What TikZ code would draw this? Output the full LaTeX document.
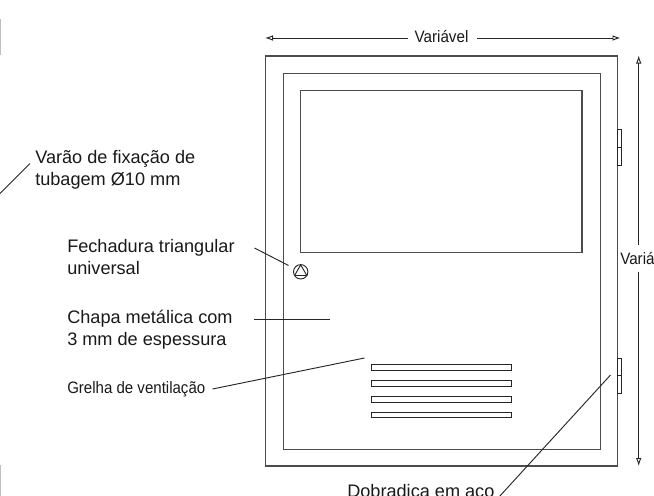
\documentclass[tikz,border=0pt]{standalone}
\usepackage{fontspec}
\setmainfont{Liberation Sans}
\usetikzlibrary{arrows.meta}
\tikzset{
	labeltext/.style={inner sep=0pt, anchor=base west, align=left, font=\fontsize{13.6pt}{16.5pt}\selectfont, text=black!90},
	narrowtext/.style={inner sep=0pt, font=\fontsize{12.4pt}{14pt}\selectfont, text=black!90},
	panelline/.style={line width=0.8pt, color=black!70},
	thinline/.style={line width=0.7pt, color=black!85},
	dimarrow/.style={line width=0.7pt, color=black!85, -{Latex[open, length=6pt, width=4.2pt]}}
}

\begin{document}
\begin{tikzpicture}[x=0.75pt, y=-0.75pt]
	%%%%% START %%%%%
	\useasboundingbox (0, 0) rectangle (654, 496);

	\draw[panelline] (265.5, 56) rectangle (617.5, 466);
	\draw[panelline] (283.3, 73.3) rectangle (600.3, 449.3);
	\draw[panelline] (300.5, 90.5) rectangle (582, 252.5);

	% hinges
	\draw[thinline] (617.5, 129.5) rectangle (621, 165);
	\draw[thinline] (617.5, 147) -- (621, 147);
	\draw[thinline] (617.5, 358) rectangle (621, 393);
	\draw[thinline] (617.5, 375.5) -- (621, 375.5);

	% vents
	\foreach \venty in {364.5, 380.5, 396.5, 412}
		\draw[thinline] (371, \venty) rectangle (511.5, \venty + 5.5);

	% lock
	\draw[thinline] (300.7, 271.8) circle (7.2);
	\draw[thinline] (300.7, 264.8) -- (306.8, 275.5) -- (294.6, 275.5) -- cycle;

	% dimensions
	\node[narrowtext] (widthlabel) at (441.5, 36.5) {\scalebox{.92}[1]{Variável}};
	\coordinate (widthleft) at (265, 38);
	\coordinate (widthright) at (620.5, 38);
	\coordinate (widthgapleft) at (408, 38);
	\coordinate (widthgapright) at (477, 38);
	\draw[dimarrow] (widthgapleft) -- (widthleft);
	\draw[dimarrow] (widthgapright) -- (widthright);

	\node[narrowtext, anchor=west] (heightlabel) at (620, 258) {\scalebox{.92}[1]{Variável}};
	\coordinate (heighttop) at (638.7, 55.5);
	\coordinate (heightbottom) at (638.7, 466);
	\coordinate (heightgaptop) at (638.7, 245);
	\coordinate (heightgapbottom) at (638.7, 271.5);
	\draw[dimarrow] (heightgaptop) -- (heighttop);
	\draw[dimarrow] (heightgapbottom) -- (heightbottom);

	% labels
	\node[labeltext] (rodlabel) at (35, 185) {Varão de fixação de\\tubagem Ø10 mm};
	\node[labeltext] (locklabel) at (67, 274) {Fechadura triangular\\universal};
	\node[labeltext] (sheetlabel) at (67, 345) {Chapa metálica com\\3 mm de espessura};
	\node[narrowtext, anchor=base west] (ventlabel) at (67, 393.5) {\scalebox{.91}[1]{Grelha de ventilação}};
	\node[labeltext] (hingelabel) at (347, 497) {Dobradiça em aço};

	% leaders
	\coordinate (rodfrom) at (30, 163.5);
	\coordinate (rodto) at (-1, 194.5);
	\coordinate (lockfrom) at (254.5, 248);
	\coordinate (lockto) at (288.5, 265.5);
	\coordinate (sheetfrom) at (254, 319);
	\coordinate (sheetto) at (330, 319);
	\coordinate (ventfrom) at (212.5, 389);
	\coordinate (ventto) at (364.5, 358);
	\coordinate (hingefrom) at (499, 497);
	\coordinate (hingeto) at (610.5, 375);
	\draw[thinline] (rodfrom) -- (rodto);
	\draw[thinline] (lockfrom) -- (lockto);
	\draw[thinline] (sheetfrom) -- (sheetto);
	\draw[thinline] (ventfrom) -- (ventto);
	\draw[thinline] (hingefrom) -- (hingeto);

	% edge remnants
	\draw[line width=0.75pt, color=black!25] (0.3, 19) -- (0.3, 55);
	\draw[line width=0.75pt, color=black!25] (0.3, 465) -- (0.3, 496);
	%%%%% END %%%%%
\end{tikzpicture}
\end{document}
